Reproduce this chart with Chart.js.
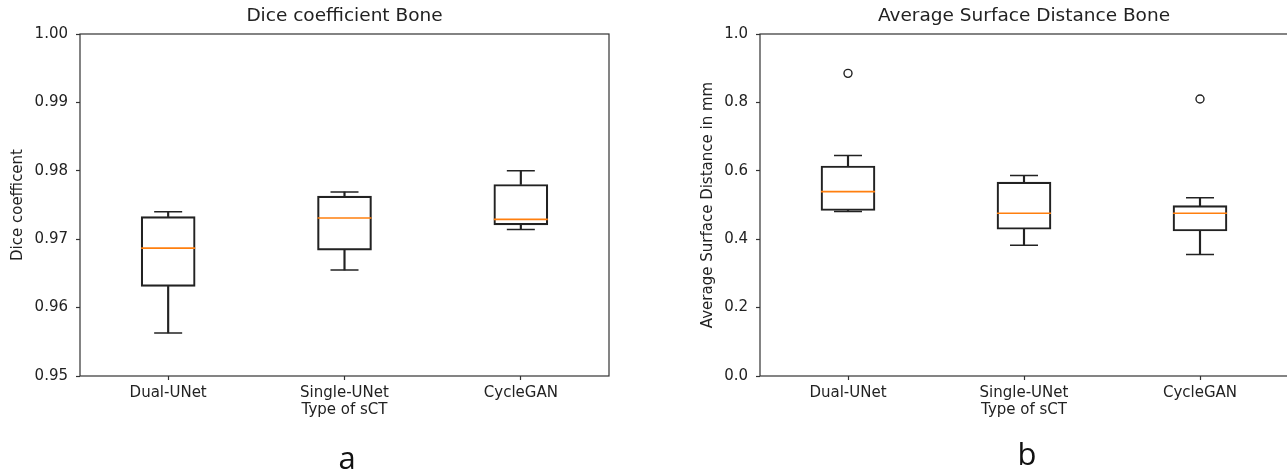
<!DOCTYPE html>
<html>
<head>
<meta charset="utf-8">
<script src="https://cdn.jsdelivr.net/npm/chart.js@4"></script>
<style>
  html, body { margin:0; padding:0; background:#fff; width:1287px; height:474px; overflow:hidden; }
  #wrap { position:relative; width:1287px; height:474px; overflow:hidden; }
  .cv { position:absolute; top:0; }
  .lbl { position:absolute; font-family:"Open Sans", "Liberation Sans", sans-serif; font-size:31px; color:#111; transform:translate(-50%,-50%); line-height:1; }
</style>
</head>
<body>
<div id="wrap">
  <div class="cv" style="left:0;width:640px;height:474px;"><canvas id="c1" width="640" height="474"></canvas></div>
  <div class="cv" style="left:640px;width:677px;height:474px;"><canvas id="c2" width="677" height="474"></canvas></div>
  <div class="lbl" style="left:347px;top:457px;">a</div>
  <div class="lbl" style="left:1027px;top:453px;">b</div>
</div>
<script>
// ---- data ----
const categories = ['Dual-UNet', 'Single-UNet', 'CycleGAN'];

const diceMin    = [0.9563, 0.9655, 0.9714];
const diceQ1     = [0.9631, 0.9684, 0.9721];
const diceMedian = [0.9687, 0.9731, 0.9729];
const diceQ3     = [0.9733, 0.9763, 0.9780];
const diceMax    = [0.9740, 0.9769, 0.9800];
const diceOutliers = [null, null, null];
const diceTicks  = [0.95, 0.96, 0.97, 0.98, 0.99, 1.00];
const diceTickLabels = ['0.95', '0.96', '0.97', '0.98', '0.99', '1.00'];

const asdMin    = [0.481, 0.382, 0.355];
const asdQ1     = [0.484, 0.429, 0.424];
const asdMedian = [0.539, 0.476, 0.476];
const asdQ3     = [0.614, 0.567, 0.498];
const asdMax    = [0.645, 0.586, 0.521];
const asdOutliers = [0.885, null, 0.810];
const asdTicks  = [0.0, 0.2, 0.4, 0.6, 0.8, 1.0];
const asdTickLabels = ['0.0', '0.2', '0.4', '0.6', '0.8', '1.0'];

const FONT = 'DejaVu Sans';
const INK = '#222';
const FRAME = '#333';
const ORANGE = '#ff7f0e';

const framePlugin = {
  id: 'frame',
  afterDraw(chart) {
    const {ctx, chartArea: a} = chart;
    ctx.save();
    ctx.strokeStyle = FRAME;
    ctx.lineWidth = 1.2;
    ctx.strokeRect(a.left, a.top, a.right - a.left, a.bottom - a.top);
    ctx.restore();
  }
};

function boxChart(canvasId, opt) {
  const pairs = (lo, hi) => lo.map((v, i) => [v, hi[i]]);
  new Chart(document.getElementById(canvasId), {
    type: 'bar',
    data: {
      labels: categories,
      datasets: [
        { // upper whisker
          data: pairs(opt.q3, opt.max), backgroundColor: INK, borderWidth: 0,
          barThickness: 1.5, grouped: false, order: 5
        },
        { // lower whisker
          data: pairs(opt.min, opt.q1), backgroundColor: INK, borderWidth: 0,
          barThickness: 1.5, grouped: false, order: 5
        },
        { // box
          data: pairs(opt.q1, opt.q3), backgroundColor: 'rgba(255,255,255,0)',
          borderColor: INK, borderWidth: 1.5, borderSkipped: false,
          barThickness: 54, grouped: false, order: 3
        },
        { // caps top
          type: 'line', data: opt.max, showLine: false, pointStyle: 'line',
          pointRadius: 14, pointBorderWidth: 1.5, pointBorderColor: INK, order: 2
        },
        { // caps bottom
          type: 'line', data: opt.min, showLine: false, pointStyle: 'line',
          pointRadius: 14, pointBorderWidth: 1.5, pointBorderColor: INK, order: 2
        },
        { // medians
          type: 'line', data: opt.median, showLine: false, pointStyle: 'line',
          pointRadius: 27, pointBorderWidth: 1.6, pointBorderColor: ORANGE, order: 1
        },
        { // outliers
          type: 'line', data: opt.outliers, showLine: false, pointStyle: 'circle',
          pointRadius: 4, pointBorderWidth: 1.4, pointBorderColor: INK,
          pointBackgroundColor: 'rgba(255,255,255,0)', order: 0
        }
      ]
    },
    options: {
      responsive: false,
      animation: false,
      events: [],
      layout: { padding: { left: 0, right: opt.padRight, top: 0, bottom: 0 } },
      plugins: {
        legend: { display: false },
        tooltip: { enabled: false },
        title: {
          display: true, text: opt.title, fullSize: false, color: INK,
          font: { family: FONT, size: 18.5, weight: 'normal' },
          padding: { top: 5, bottom: 6.8 }
        }
      },
      scales: {
        x: {
          type: 'category', offset: true,
          afterFit(s) { s.height = 98; },
          grid: { offset: false, drawOnChartArea: false, drawTicks: true, tickLength: 4, tickColor: FRAME, tickWidth: 1.2 },
          border: { display: false },
          ticks: { color: INK, font: { family: FONT, size: 15 }, padding: 4, maxRotation: 0 },
          title: { display: true, text: 'Type of sCT', color: INK, font: { family: FONT, size: 15 }, padding: { top: 0, bottom: 55 } }
        },
        y: {
          min: opt.ticks[0], max: opt.ticks[opt.ticks.length - 1],
          afterFit(s) { s.width = opt.axisWidth; },
          afterBuildTicks(s) { s.ticks = opt.ticks.map(v => ({ value: v })); },
          grid: { drawOnChartArea: false, drawTicks: true, tickLength: 4, tickColor: FRAME, tickWidth: 1.2 },
          border: { display: false },
          ticks: {
            color: INK, font: { family: FONT, size: 15 }, padding: 8,
            callback: (v, i) => opt.tickLabels[i]
          },
          title: { display: true, text: opt.yTitle, color: INK, font: { family: FONT, size: 15 }, padding: { top: opt.yTitlePad, bottom: 0 } }
        }
      }
    },
    plugins: [framePlugin]
  });
}

boxChart('c1', {
  title: 'Dice coefficient Bone', yTitle: 'Dice coefficent',
  min: diceMin, q1: diceQ1, median: diceMedian, q3: diceQ3, max: diceMax, outliers: diceOutliers,
  ticks: diceTicks, tickLabels: diceTickLabels,
  axisWidth: 80, padRight: 31, yTitlePad: 9
});
boxChart('c2', {
  title: 'Average Surface Distance Bone', yTitle: 'Average Surface Distance in mm',
  min: asdMin, q1: asdQ1, median: asdMedian, q3: asdQ3, max: asdMax, outliers: asdOutliers,
  ticks: asdTicks, tickLabels: asdTickLabels,
  axisWidth: 120, padRight: 29, yTitlePad: 59
});
</script>
</body>
</html>
